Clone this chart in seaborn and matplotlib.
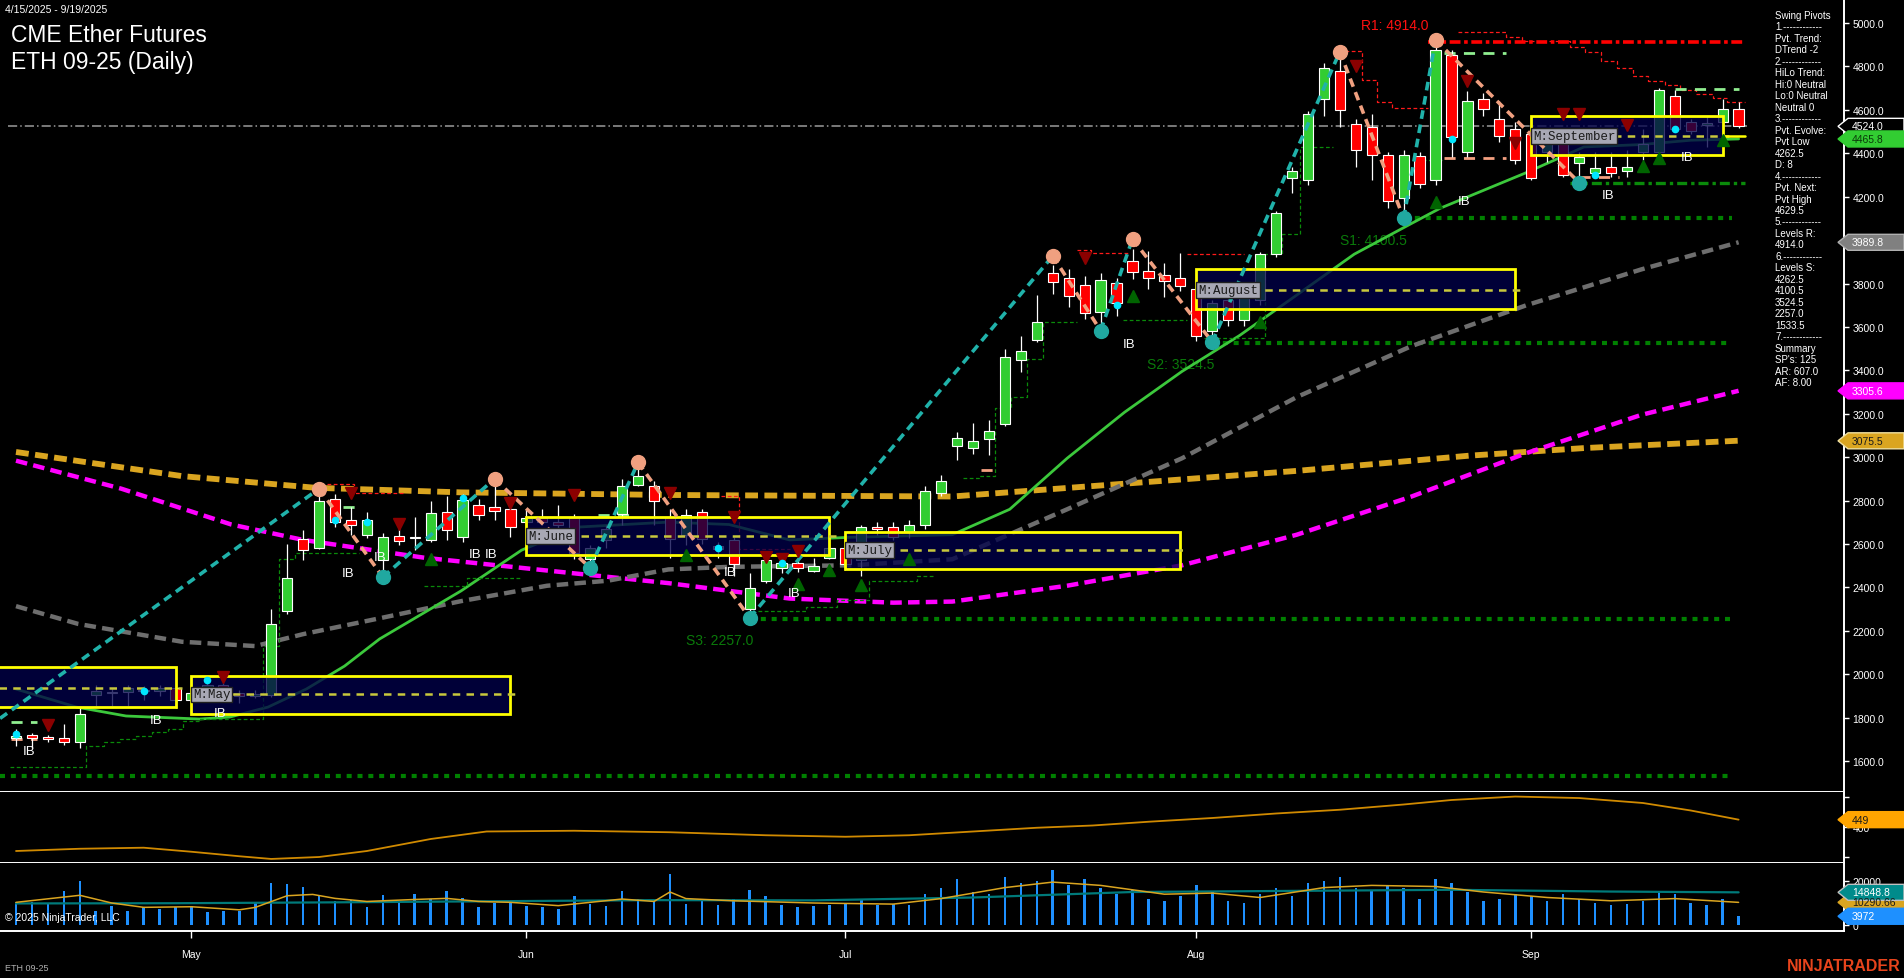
import numpy as np
import pandas as pd
import seaborn as sns
import matplotlib.pyplot as plt
from matplotlib.patches import Rectangle, Polygon
from matplotlib.transforms import IdentityTransform

sns.set_theme(style='dark')
plt.rcParams['font.family'] = ['Liberation Sans', 'DejaVu Sans']

# ---------------- data ----------------
# bar index 0 = 4/15/2025 ... 108 = 9/19/2025
opens = [1705, 1722, 1712, 1708, 1690, 1905, 1915, 1920, 1930, 1925, 1935, 1880, 1915, 1950, 1915, 1900,
         1905, 2290, 2624, 2584, 2807, 2713, 2643, 2525, 2636, 2628, 2619, 2749, 2631, 2779, 2772, 2760,
         2700, 2720, 2700, 2725, 2530, 2619, 2737, 2873, 2866, 2725, 2643, 2749, 2590, 2619, 2302, 2431,
         2490, 2514, 2478, 2537, 2584, 2525, 2678, 2678, 2654, 2690, 2835, 3052, 3043, 3084, 3153, 3448,
         3540, 3849, 3825, 3793, 3669, 3802, 3904, 3858, 3839, 3825, 3775, 3583, 3724, 3630, 3724, 3935,
         4288, 4276, 4652, 4781, 4535, 4523, 4394, 4194, 4387, 4276, 4852, 4405, 4652, 4558, 4511, 4488,
         4405, 4452, 4354, 4311, 4335, 4316, 4405, 4405, 4664, 4546, 4530, 4546, 4605]
highs = [1748, 1728, 1720, 1770, 1845, 1950, 1938, 1949, 1945, 1949, 1945, 1935, 1975, 1960, 1926, 1930,
         2302, 2600, 2666, 2854, 2831, 2772, 2749, 2649, 2678, 2725, 2796, 2819, 2831, 2807, 2895, 2772,
         2760, 2760, 2780, 2740, 2596, 2690, 2901, 2976, 2890, 2760, 2760, 2760, 2610, 2631, 2467, 2549,
         2537, 2540, 2537, 2600, 2600, 2690, 2700, 2700, 2710, 2866, 2918, 3116, 3157, 3171, 3498, 3558,
         3747, 3885, 3867, 3835, 3849, 3825, 3959, 3950, 3895, 3941, 3820, 3724, 3771, 3771, 3947, 4135,
         4335, 4593, 4817, 4868, 4558, 4582, 4405, 4417, 4405, 4922, 4875, 4687, 4676, 4640, 4546, 4535,
         4499, 4476, 4405, 4405, 4405, 4417, 4511, 4700, 4692, 4558, 4570, 4652, 4636]
lows = [1672, 1660, 1690, 1675, 1660, 1855, 1855, 1855, 1880, 1902, 1845, 1870, 1900, 1905, 1867, 1890,
        1895, 2280, 2525, 2578, 2678, 2643, 2626, 2450, 2596, 2572, 2608, 2619, 2608, 2713, 2713, 2631,
        2680, 2690, 2666, 2530, 2490, 2584, 2690, 2866, 2690, 2537, 2596, 2600, 2537, 2455, 2260, 2420,
        2467, 2470, 2470, 2530, 2480, 2455, 2640, 2620, 2630, 2670, 2820, 2987, 3015, 3010, 3144, 3392,
        3531, 3752, 3692, 3637, 3600, 3650, 3821, 3775, 3738, 3766, 3535, 3531, 3606, 3606, 3700, 3924,
        4217, 4253, 4570, 4523, 4335, 4276, 4147, 4100, 4241, 4253, 4382, 4382, 4570, 4452, 4350, 4276,
        4358, 4290, 4265, 4300, 4290, 4290, 4370, 4405, 4499, 4488, 4430, 4535, 4518]
closes = [1715, 1705, 1700, 1690, 1817, 1925, 1920, 1935, 1925, 1935, 1880, 1915, 1950, 1920, 1900, 1910,
          2231, 2443, 2572, 2796, 2701, 2690, 2713, 2631, 2614, 2634, 2741, 2666, 2803, 2732, 2753, 2678,
          2720, 2700, 2690, 2561, 2584, 2671, 2866, 2913, 2796, 2624, 2732, 2624, 2575, 2506, 2396, 2525,
          2514, 2490, 2500, 2584, 2510, 2680, 2671, 2631, 2690, 2843, 2890, 3088, 3075, 3121, 3462, 3489,
          3623, 3807, 3743, 3664, 3816, 3710, 3853, 3825, 3812, 3789, 3558, 3712, 3630, 3736, 3935, 4123,
          4316, 4582, 4793, 4598, 4417, 4394, 4182, 4394, 4260, 4875, 4476, 4640, 4605, 4481, 4370, 4288,
          4476, 4300, 4382, 4330, 4307, 4335, 4441, 4692, 4511, 4504, 4540, 4605, 4524]
volumes = [10300, 10300, 9550, 15570, 20140, 6500, 8790, 6500, 8030, 7270, 8030, 8790, 6060, 6500, 6500, 10600,
           19090, 18640, 17120, 13640, 11060, 11360, 8030, 13640, 10000, 14100, 11820, 15570, 12120, 8030, 10000, 11060,
           8790, 8030, 7270, 13340, 9550, 8790, 15570, 11820, 11060, 23180, 9550, 11000, 9000, 12000, 16000, 13000,
           9000, 8000, 8500, 9000, 10000, 12000, 9000, 9500, 9000, 14000, 17000, 21000, 15000, 14000, 22000, 19000,
           20000, 25000, 18000, 21000, 17000, 14000, 16000, 12000, 11000, 13000, 18000, 15000, 11000, 10000, 14000, 17000,
           13000, 19000, 20000, 22000, 17000, 16000, 18000, 17000, 12000, 21000, 19000, 15000, 11000, 12000, 14000, 13000,
           11000, 14000, 12000, 10000, 9000, 9500, 11000, 15000, 14000, 10000, 9000, 12000, 3972]

month_ticks = [11, 32, 52, 74, 95]
month_names = ['May', 'Jun', 'Jul', 'Aug', 'Sep']

# moving averages (bar, value)
ma_green_x = [0, 3.8, 6.9, 11.5, 13.4, 15.8, 18.2, 20.6, 22.8, 27.9, 31.7, 35.2, 40.9, 44.7, 48.5, 52.3, 58.7,
              62.3, 65.9, 69.5, 73.1, 76.7, 80.3, 83.9, 87.5, 89.3, 94.7, 98.3, 101.9, 105, 108]
ma_green_y = [1932, 1849, 1808, 1794, 1803, 1849, 1932, 2038, 2163, 2384, 2572, 2678, 2701, 2690, 2619, 2631, 2643,
              2760, 2995, 3207, 3395, 3560, 3747, 3935, 4077, 4147, 4311, 4429, 4440, 4460, 4466]
ma_gray_x = [0, 3.9, 10.4, 15.0, 18.0, 22.6, 27.9, 33.3, 37.1, 40.9, 44.7, 52.3, 58.7, 65.9, 73.1, 80.3, 87.5,
             94.7, 101.9, 108]
ma_gray_y = [2314, 2232, 2150, 2130, 2185, 2255, 2337, 2408, 2431, 2483, 2495, 2502, 2530, 2760, 2995, 3277, 3512,
             3700, 3865, 3990]
ma_mag_x = [0, 6.6, 13.5, 18.0, 25.6, 33.3, 40.9, 48.5, 55, 58.7, 65.9, 73.1, 80.3, 87.5, 94.7, 101.9, 108]
ma_mag_y = [2984, 2855, 2690, 2619, 2537, 2478, 2420, 2349, 2330, 2335, 2408, 2502, 2643, 2819, 3019, 3195, 3306]
ma_gold_x = [0, 10.4, 18.8, 27.9, 40.9, 58.7, 69.5, 80.3, 91.1, 98.3, 108]
ma_gold_y = [3024, 2913, 2859, 2838, 2826, 2819, 2878, 2937, 3007, 3042, 3076]

# swing pivots (bar, price), alternating low/high
swing_x = [-1, 19, 23, 30, 36, 39, 46, 65, 68, 70, 75, 83, 87, 89, 98]
swing_y = [1797, 2855, 2448, 2900, 2490, 2976, 2260, 3927, 3583, 4005, 3531, 4868, 4100, 4922, 4265]

# monthly boxes
box_names = ['', 'M:May', 'M:June', 'M:July', 'M:August', 'M:September']
box_start = [-1.6, 11, 32, 52, 74, 95]
box_end = [10, 31, 51, 73, 94, 107]
box_low = [1849, 1815, 2549, 2486, 3682, 4394]
box_high = [2034, 1992, 2725, 2655, 3865, 4570]
box_mid = [1937, 1907, 2636, 2572, 3771, 4481]

# support / resistance levels
level_r1 = 4914.0
levels_s = [4100.5, 3524.5, 2257.0, 1533.5]
levels_s_start = [87, 75, 46, -1]
pivot_low = 4262.5
last_price = 4524.0

# trailing step lines (bar, price), nan breaks segments
red_trail_x = [19.5, 21.2, 21.2, 24.4, np.nan, 44.2, 45.3, 45.3, 48.5, np.nan,
               66.5, 67.4, 67.4, 69.7, np.nan, 73.4, 77.0, np.nan,
               83.3, 84.4, 84.4, 85.3, 85.3, 86.3, 86.3, 88.5, np.nan,
               90.4, 93.4, 93.4, 94.4, 94.4, 97.4, 97.4, 98.4, 98.4, 99.4, 99.4, 100.4, 100.4, 101.4, 101.4,
               102.3, 102.3, 103.4, 103.4, 104.3, 104.3, 105.3, 105.3, 106.4, 106.4, 107.3, 107.3, 108.4]
red_trail_y = [2878, 2878, 2836, 2836, np.nan, 2819, 2819, 2577, 2577, np.nan,
               3956, 3956, 3941, 3941, np.nan, 3938, 3938, np.nan,
               4871, 4871, 4737, 4737, 4636, 4636, 4608, 4608, np.nan,
               4957, 4957, 4934, 4934, 4916, 4916, 4888, 4888, 4865, 4865, 4826, 4826, 4791, 4791, 4757,
               4757, 4734, 4734, 4714, 4714, 4693, 4693, 4673, 4673, 4653, 4653, 4635, 4635]
green_trail_x = [-0.4, 4.4, 4.4, 5.5, 5.5, 6.5, 6.5, 7.5, 7.5, 8.5, 8.5, 9.5, 9.5, 10.5, 10.5, 11.5, 11.5, 15.5,
                 15.5, 16.5, 16.5, 17.5, 17.5, 21.5, np.nan,
                 25.6, 28.3, 28.3, 31.7, np.nan,
                 46.5, 49.5, 49.5, 51.5, 51.5, 53.5, 53.5, 56.5, 56.5, 57.5, np.nan,
                 59.4, 60.4, 60.4, 61.4, 61.4, 62.4, 62.4, 63.4, 63.4, 64.4, 64.4, 66.5, np.nan,
                 69.4, 73.4, np.nan,
                 74.5, 78.3, 78.3, 79.4, 79.4, 80.5, 80.5, 82.6, np.nan, 87.8, 89.4]
green_trail_y = [1571, 1571, 1671, 1671, 1687, 1687, 1702, 1702, 1714, 1714, 1736, 1736, 1748, 1748, 1786, 1786, 1794, 1794,
                 2130, 2130, 2530, 2530, 2560, 2560, np.nan,
                 2408, 2408, 2443, 2443, np.nan,
                 2290, 2290, 2310, 2310, 2340, 2340, 2430, 2430, 2455, 2455, np.nan,
                 2904, 2904, 2913, 2913, 3227, 3227, 3277, 3277, 3452, 3452, 3623, 3623, np.nan,
                 3632, 3632, np.nan,
                 3548, 3548, 3935, 3935, 4029, 4029, 4429, 4429, np.nan, 4370, 4370]

# short dashed marks (bar start, bar end, price)
lg_dash = [(-0.3, 1.3, 1780), (89.5, 93.4, 4862), (104.0, 108.0, 4696), (36.5, 38.5, 2735), (20.5, 21.5, 2770)]
salmon_dash = [(89.5, 93.4, 4378), (98.0, 100.5, 4291), (60.5, 61.4, 2940), (-0.3, 1.3, 1703)]

# markers
tri_dn_x = [2, 13, 21, 24, 31, 35, 41, 45, 47, 48, 49, 67, 84, 91, 94, 97, 98, 100, 101]
tri_dn_y = [1726, 1949, 2796, 2654, 2749, 2784, 2796, 2683, 2500, 2490, 2530, 3877, 4763, 4692, 4405, 4540, 4540, 4430, 4488]
tri_up_x = [26, 42, 49, 51, 53, 56, 70, 78, 89, 102, 103, 107]
tri_up_y = [2572, 2590, 2455, 2520, 2450, 2572, 3783, 3665, 4217, 4382, 4420, 4500]
ib_x = [0, 8, 12, 20, 22, 28, 29, 44, 48, 69, 90, 99, 104]
ib_y = [1703, 1849, 1880, 2525, 2600, 2610, 2610, 2530, 2430, 3578, 4236, 4265, 4440]
cyan_x = [0, 8, 12, 20, 22, 28, 44, 48, 69, 90, 99, 104]
cyan_y = [1726, 1922, 1973, 2713, 2700, 2810, 2584, 2514, 3700, 4464, 4300, 4510]

# oscillator (bar, value)
osc_x = [0, 4, 8, 11, 14, 16, 19, 22, 26, 29.5, 35, 41, 47, 52, 56, 60, 64, 67.5, 71, 75, 79, 83, 87, 90,
         94, 98, 102, 105, 108]
osc_y = [240, 255, 262, 235, 205, 187, 200, 240, 320, 370, 375, 365, 345, 335, 345, 370, 395, 410, 435, 460,
         490, 515, 550, 580, 603, 593, 560, 510, 449]

# volume averages (bar, value)
vma_or_x = [0, 4, 6, 8, 11, 14, 15, 17, 18.6, 20, 22, 25, 27, 29, 31, 34, 36, 38, 40, 41, 42, 45, 50, 55,
            58, 62, 65, 68, 72, 75, 78, 82, 85, 89, 92, 96, 100, 104, 108]
vma_or_y = [10300, 13500, 10000, 8030, 8300, 6900, 8000, 13300, 13900, 12100, 10700, 11600, 12100, 10700,
            10300, 8800, 10300, 11800, 10700, 15000, 12000, 11000, 10000, 9500, 12000, 17000, 19500, 18000,
            14000, 14500, 12500, 17000, 18000, 17500, 15000, 12500, 11000, 12000, 10290]
vma_tl_x = [0, 10, 20, 30, 40, 50, 60, 70, 80, 90, 100, 108]
vma_tl_y = [9800, 9900, 10300, 10800, 11300, 11200, 12500, 15000, 15500, 16000, 15200, 14849]

# ---------------- figure ----------------
W, H = 1904, 979
fig = plt.figure(figsize=(W / 100, H / 100), dpi=100, facecolor='black')
AX_W = 1844
ax = fig.add_axes([0, 1 - 793 / H, AX_W / W, 793 / H])
axo = fig.add_axes([0, 1 - 864 / H, AX_W / W, 71 / H])
axv = fig.add_axes([0, 1 - 932 / H, AX_W / W, 68 / H])

xlo, xhi = (0 - 16) / 15.95, (AX_W - 16) / 15.95
for a in (ax, axo, axv):
    a.set_facecolor('black')
    a.set_xlim(xlo, xhi)
    a.grid(False)
    for s in ('top', 'left'):
        a.spines[s].set_visible(False)
    for s in ('bottom', 'right'):
        a.spines[s].set_color('white')
        a.spines[s].set_linewidth(1.4)
    a.yaxis.tick_right()
    a.tick_params(axis='y', colors='white', labelsize=7.5, length=3.6, width=1, direction='out', pad=2.5,
                  right=True, left=False)
    a.tick_params(axis='x', bottom=False, labelbottom=False)

ax.set_ylim(1457.9, 5110.5)
axo.set_ylim(160, 633.3)
axv.set_ylim(-2727, 28180)

ax.set_yticks(np.arange(1600, 5001, 200))
ax.set_yticklabels([f'{v:.1f}' for v in np.arange(1600, 5001, 200)])
axo.set_yticks([200, 400, 600])
axo.set_yticklabels(['', '400', ''])
axv.set_yticks([0, 20000])
axv.set_yticklabels(['0', '20000'])
axv.set_xticks(month_ticks)
axv.set_xticklabels(month_names)
axv.tick_params(axis='x', bottom=True, labelbottom=True, colors='white', labelsize=7.5, length=5,
                width=1, direction='out', pad=8)

bars = np.arange(len(closes))

# moving averages
ma_df = pd.DataFrame({'bar': ma_gold_x, 'v': ma_gold_y})
sns.lineplot(data=ma_df, x='bar', y='v', ax=ax, color='#DAA520', linewidth=4.2, linestyle=(0, (2.2, 1.1)),
             zorder=2, estimator=None)
sns.lineplot(x=ma_mag_x, y=ma_mag_y, ax=ax, color='#FF00FF', linewidth=3.2, linestyle=(0, (2.6, 1.4)),
             zorder=2, estimator=None)
sns.lineplot(x=ma_gray_x, y=ma_gray_y, ax=ax, color='#6E6E6E', linewidth=3.2, linestyle=(0, (2.6, 1.4)),
             zorder=2, estimator=None)
sns.lineplot(x=ma_green_x, y=ma_green_y, ax=ax, color='#3CC83C', linewidth=2.0, zorder=2, estimator=None)

# levels
ax.plot([-0.5, 108.5], [last_price, last_price], color='#9A9A9A', lw=1.1, ls=(0, (6, 2, 1, 2)), zorder=1.5)
ax.plot([88.5, 108.4], [level_r1, level_r1], color='#FF0000', lw=2.6, ls=(0, (3, 1, 1, 1)), zorder=3)
for lv, st in zip(levels_s, levels_s_start):
    ax.plot([st, 107.6], [lv, lv], color='#008000', lw=3.0, ls=(0, (1.2, 1.4)), zorder=1.8)
ax.plot([97.4, 108.4], [pivot_low, pivot_low], color='#0A8A0A', lw=2.4, ls=(0, (3, 1.2, 1, 1.2)), zorder=3)

ax.plot(red_trail_x, red_trail_y, color='#FF1A1A', lw=0.9, ls=(0, (3, 2)), zorder=2.5)
ax.plot(green_trail_x, green_trail_y, color='#0A8A0A', lw=0.9, ls=(0, (3, 2)), zorder=2.5)
for x0, x1, v in lg_dash:
    ax.plot([x0, x1], [v, v], color='#90EE90', lw=2, ls=(0, (4, 3)), zorder=3)
for x0, x1, v in salmon_dash:
    ax.plot([x0, x1], [v, v], color='#F4A080', lw=2, ls=(0, (4, 3)), zorder=3)

# candles
for i in bars:
    o, h, l, c = opens[i], highs[i], lows[i], closes[i]
    up = c >= o
    ax.plot([i, i], [l, h], color='white', lw=0.9, zorder=3, solid_capstyle='butt')
    ax.add_patch(Rectangle((i - 0.32, min(o, c)), 0.64, max(abs(c - o), 4),
                           facecolor='#32CD32' if up else '#FF0000', edgecolor='white', lw=0.8, zorder=3.2))

# monthly boxes
for name, x0, x1, lo, hi, mid in zip(box_names, box_start, box_end, box_low, box_high, box_mid):
    ax.add_patch(Rectangle((x0, lo), x1 - x0, hi - lo, facecolor='#000048', alpha=0.78, edgecolor='none',
                           zorder=4))
    ax.add_patch(Rectangle((x0, lo), x1 - x0, hi - lo, facecolor='none', edgecolor='#FFFF00', lw=2.0,
                           zorder=4.2))
    ax.plot([x0, x1 + 0.4], [mid, mid], color='#C8C83C', lw=1.8, ls=(0, (3, 2.5)), zorder=4.3)
    if name:
        ax.text(x0 + 0.1, mid, name, fontfamily='Liberation Mono', fontsize=9, color='#1A1A1A', va='center',
                ha='left', zorder=6,
                bbox=dict(boxstyle='square,pad=0.15', facecolor='#A8A8B4', edgecolor='#202020', lw=1))
ax.plot([107, 108.4], [box_mid[-1], box_mid[-1]], color='#FFFF00', lw=1.8, zorder=4.3)

# swing lines and pivots
for k in range(len(swing_x) - 1):
    up = swing_y[k + 1] > swing_y[k]
    ax.plot(swing_x[k:k + 2], swing_y[k:k + 2], color='#20B2AA' if up else '#F0A080', lw=2.6,
            ls=(0, (2.4, 1.6)), zorder=5)
for k in range(1, len(swing_x)):
    hi_pt = swing_y[k] > swing_y[k - 1]
    ax.plot(swing_x[k], swing_y[k], 'o', ms=10, color='#F0A080' if hi_pt else '#20A8A0', zorder=5.5)

ax.plot(tri_dn_x, np.array(tri_dn_y) + 40, 'v', ms=9, color='#8B0000', zorder=5.2, ls='none')
ax.plot(tri_up_x, np.array(tri_up_y) - 40, '^', ms=9, color='#006400', zorder=5.2, ls='none')
ax.plot(cyan_x, cyan_y, 'o', ms=4.5, color='#00E5FF', zorder=5.3, ls='none')
for x, y in zip(ib_x, ib_y):
    ax.text(x + 0.4, y - 30, 'IB', color='white', fontsize=9.5, va='top', ha='left', zorder=6)

# level labels
ax.text(84.3, 4990, 'R1: 4914.0', color='#FF1010', fontsize=10, va='center', ha='left', zorder=6)
ax.text(83.0, 4000, 'S1: 4100.5', color='#0A7A0A', fontsize=10, va='center', ha='left', zorder=1.9)
ax.text(70.9, 3427, 'S2: 3524.5', color='#0A7A0A', fontsize=10, va='center', ha='left', zorder=1.9)
ax.text(42.0, 2157, 'S3: 2257.0', color='#0A7A0A', fontsize=10, va='center', ha='left', zorder=1.9)

# oscillator
sns.lineplot(x=osc_x, y=osc_y, ax=axo, color='#D08A00', linewidth=1.3, estimator=None)

# volume
axv.bar(bars, volumes, width=0.16, color='#1E90FF', edgecolor='none', linewidth=0, zorder=2)
sns.lineplot(x=vma_tl_x, y=vma_tl_y, ax=axv, color='#007A7A', linewidth=1.6, estimator=None, zorder=3)
sns.lineplot(x=vma_or_x, y=vma_or_y, ax=axv, color='#DAA520', linewidth=1.1, estimator=None, zorder=3)

for a in (ax, axo, axv):
    a.set_xlabel('')
    a.set_ylabel('')
    a.set_xlim(xlo, xhi)


# ---------------- right-hand price tags ----------------
def tag(a, val, txt, fc, tc, ec=None):
    y = a.transData.transform((0, val))[1]
    x0, x1, x2, h = 1838, 1848, 1904, 8
    fig.add_artist(Polygon([[x0, y], [x1, y + h], [x2, y + h], [x2, y - h], [x1, y - h]], closed=True,
                           transform=IdentityTransform(), facecolor=fc, edgecolor=ec or fc, lw=1, zorder=10))
    fig.text(x1 + 4, y, txt, transform=IdentityTransform(), color=tc, fontsize=7.5, va='center', ha='left',
             zorder=11)


tag(ax, 4524.0, '4524.0', 'black', 'white', 'white')
tag(ax, 4465.8, '4465.8', '#32CD32', '#0A3A0A')
tag(ax, 3989.8, '3989.8', '#808080', 'white', '#B0B0B0')
tag(ax, 3305.6, '3305.6', '#FF00FF', 'white')
tag(ax, 3075.5, '3075.5', '#DAA520', '#1A1A1A', '#F0E0A0')
tag(axo, 449, '449', '#FFA500', '#1A1A1A')
tag(axv, 10290.66, '10290.66', '#DAA520', '#1A1A1A')
tag(axv, 14848.8, '14848.8', '#008B8B', 'white', '#C0C0C0')
tag(axv, 3972, '3972', '#1E90FF', 'white')

# ---------------- texts ----------------
panel = ['Swing Pivots', '1.------------', 'Pvt. Trend:', 'DTrend -2', '2.------------', 'HiLo Trend:',
         'Hi:0 Neutral', 'Lo:0 Neutral', 'Neutral 0', '3.------------', 'Pvt. Evolve:', 'Pvt Low', '4262.5',
         'D: 8', '4.------------', 'Pvt. Next:', 'Pvt High', '4629.5', '5.------------', 'Levels R:', '4914.0',
         '6.------------', 'Levels S:', '4262.5', '4100.5', '3524.5', '2257.0', '1533.5', '7.------------',
         'Summary', "SP's: 125", 'AR: 607.0', 'AF: 8.00']
for k, line in enumerate(panel):
    fig.text(1775 / W, 1 - (16 + k * 11.47) / H, line, color='white', fontsize=7, va='center', ha='left')

fig.text(5 / W, 1 - 10 / H, '4/15/2025 - 9/19/2025', color='white', fontsize=7.5, va='center', ha='left')
fig.text(11 / W, 1 - 35 / H, 'CME Ether Futures', color='white', fontsize=16.5, va='center', ha='left')
fig.text(11 / W, 1 - 62 / H, 'ETH 09-25 (Daily)', color='white', fontsize=16.5, va='center', ha='left')
fig.text(5 / W, 1 - 918 / H, '\u00a9 2025 NinjaTrader, LLC', color='white', fontsize=7.5, va='center', ha='left')
fig.text(5 / W, 1 - 969 / H, 'ETH 09-25', color='#B0B0B0', fontsize=6.5, va='center', ha='left')
fig.text(1901 / W, 1 - 967 / H, 'NINJATRADER', color='#E8441C', fontsize=11.5, fontweight='bold',
         va='center', ha='right')

fig.savefig('out.png', dpi=100, facecolor='black')
